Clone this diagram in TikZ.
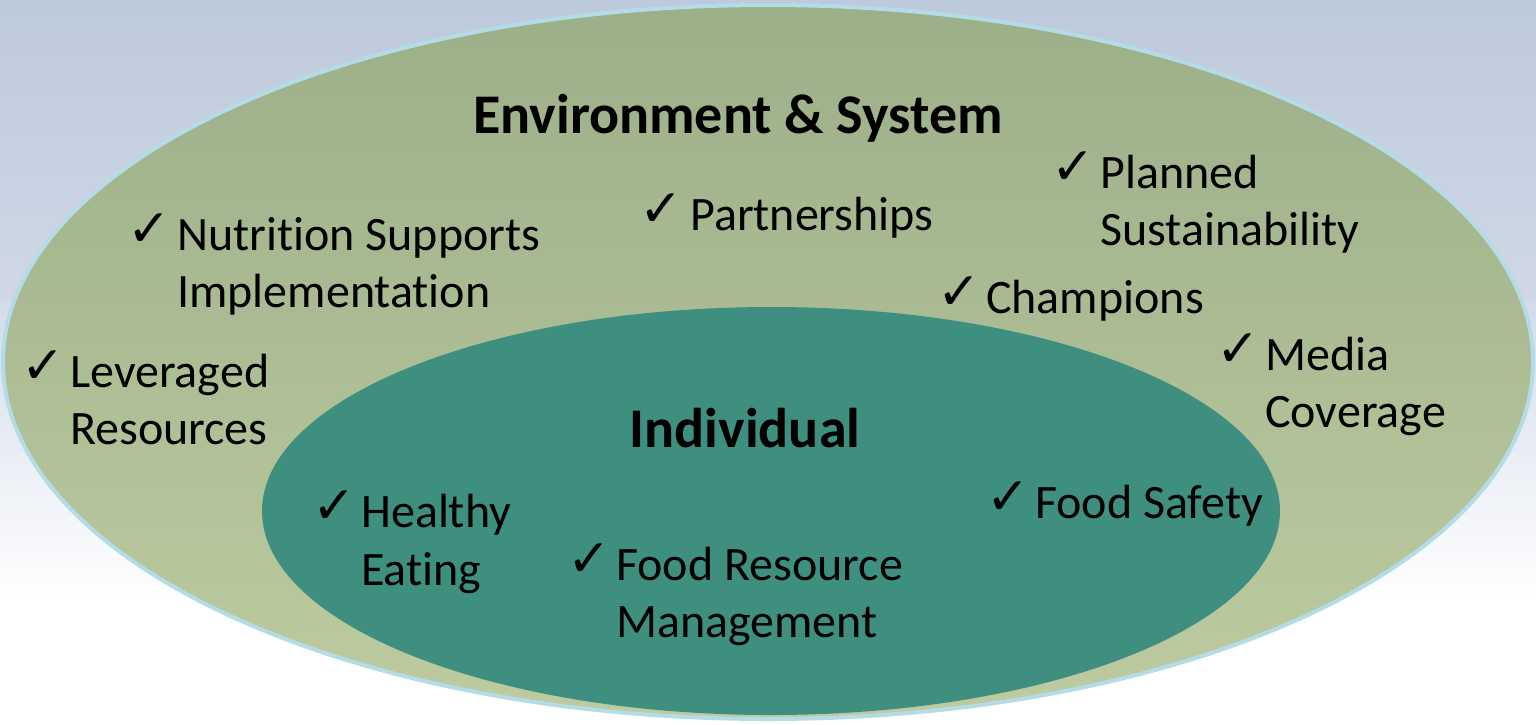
\documentclass[tikz,border=0pt]{standalone}
\usepackage{fontspec}
\setmainfont{Carlito}[Ligatures=NoCommon]
\newfontfamily\chk{DejaVu Sans}
\definecolor{bgtop}{HTML}{BDC9DC}
\definecolor{bgmid}{HTML}{D4DBE8}
\definecolor{outtop}{HTML}{9BAF89}
\definecolor{outbot}{HTML}{BECBA0}
\definecolor{outline}{HTML}{B4DCE6}
\definecolor{inner}{HTML}{3E8F7F}
\tikzset{
  item/.style={anchor=base west, inner sep=0pt, font=\fontsize{48}{48}\selectfont},
  tick/.style={anchor=base west, inner sep=0pt, xshift=-6pt, yshift=4pt, font=\chk\fontsize{52}{52}\selectfont},
  heading/.style={anchor=base, inner sep=0pt, font=\fontsize{56}{56}\selectfont\bfseries},
}
\begin{document}
\begin{tikzpicture}[x=1pt,y=-1pt]
\useasboundingbox (0,0) rectangle (1536,724);
\shade[top color=bgtop, bottom color=white, middle color=bgmid] (0,0) rectangle (1536,724);
\fill[white] (0,600) rectangle (1536,724);
\shade[top color=bgmid, bottom color=white] (0,300) rectangle (1536,600);
\shade[top color=outtop, bottom color=outbot, draw=outline, line width=4pt] (768,362) ellipse [x radius=765, y radius=357];
\fill[inner] (771,511) ellipse [x radius=509, y radius=204];

\node[heading] (env) at (738,133) {Environment \& System};
\node[heading] (ind) at (745,447) {Individual};

\node[tick] (t1) at (133,250) {✓};
\node[item] (a1) at (177,250) {Nutrition Supports};
\node[item] (a2) at (177,307) {Implementation};

\node[tick] (t2) at (645,230) {✓};
\node[item] (b1) at (690,230) {Partnerships};

\node[tick] (t3) at (1057,188) {✓};
\node[item] (c1) at (1100,188) {Planned};
\node[item] (c2) at (1100,245) {Sustainability};

\node[tick] (t4) at (943,313) {✓};
\node[item] (d1) at (986,313) {Champions};

\node[tick] (t5) at (1222,370) {✓};
\node[item] (e1) at (1265,370) {Media};
\node[item] (e2) at (1265,427) {Coverage};

\node[tick] (t6) at (27,387) {✓};
\node[item] (f1) at (70,387) {Leveraged};
\node[item] (f2) at (70,444) {Resources};

\node[tick] (t7) at (318,527) {✓};
\node[item] (g1) at (361,527) {Healthy};
\node[item] (g2) at (361,585) {Eating};

\node[tick] (t8) at (573,580) {✓};
\node[item] (h1) at (616,580) {Food Resource};
\node[item] (h2) at (616,637) {Management};

\node[tick] (t9) at (992,518) {✓};
\node[item] (i1) at (1035,518) {Food Safety};
\end{tikzpicture}
\end{document}
